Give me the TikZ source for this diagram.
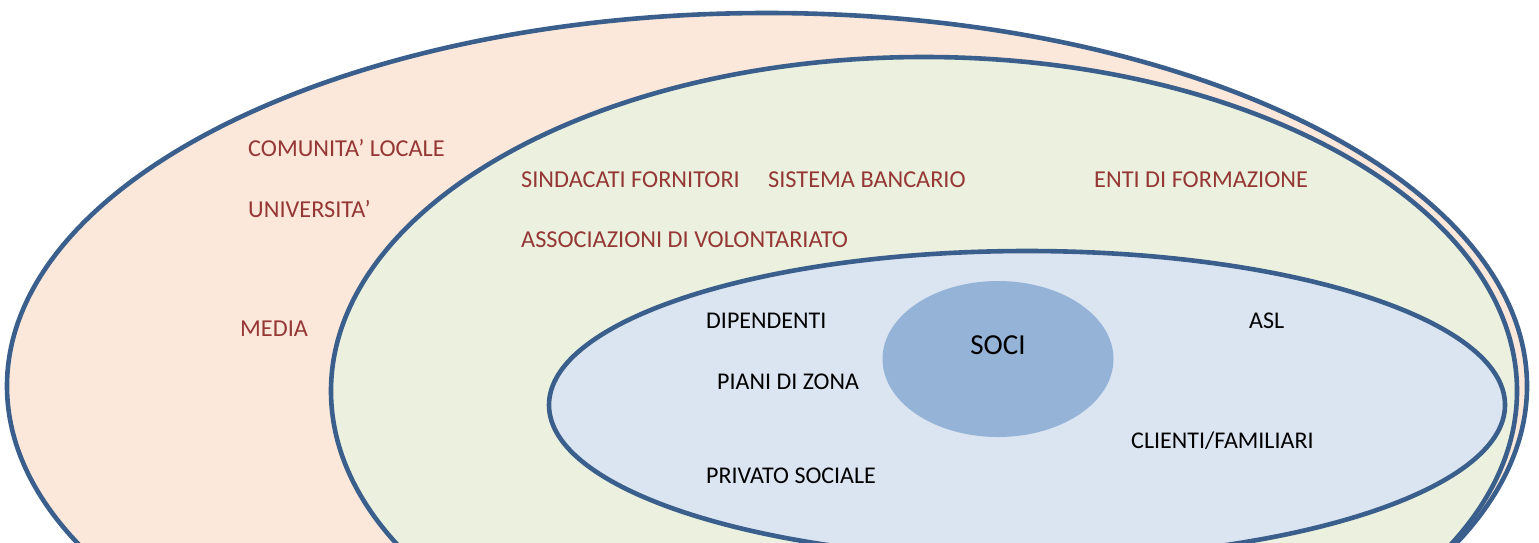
\documentclass[tikz,border=0pt]{standalone}
\usepackage{fontspec}
\setmainfont{Carlito}
\usetikzlibrary{shapes.geometric}
\definecolor{ringline}{HTML}{3A5F8C}
\definecolor{outerfill}{HTML}{FCE8DA}
\definecolor{midfill}{HTML}{EBF1DE}
\definecolor{innerfill}{HTML}{DBE5F1}
\definecolor{socifill}{HTML}{95B3D7}
\definecolor{labred}{HTML}{953735}
\tikzset{
  ring/.style={ellipse, draw=ringline, line width=4.6pt, inner sep=0pt, outer sep=0pt},
  redlab/.style={anchor=west, inner sep=0pt, text=labred, font=\fontsize{24.3}{28}\selectfont},
  blacklab/.style={anchor=west, inner sep=0pt, text=black, font=\fontsize{24}{28}\selectfont},
}
\begin{document}
\begin{tikzpicture}[x=1pt, y=-1pt]
\useasboundingbox (0,0) rectangle (1539,542);
\clip (0,0) rectangle (1539,542);
\node[ring, fill=outerfill, minimum width=1520pt, minimum height=746pt] (outer) at (767,386) {};
\node[ring, fill=midfill, minimum width=1186pt, minimum height=668pt] (middle) at (924,391) {};
\node[ring, fill=innerfill, minimum width=956pt, minimum height=308pt] (inner) at (1027,405) {};
\node[ellipse, fill=socifill, inner sep=0pt, minimum width=231pt, minimum height=156pt] (soci) at (998,359) {};
\node[inner sep=0pt, font=\fontsize{29}{32}\selectfont] (socilab) at (998,345) {SOCI};

\node[redlab] (comunita) at (248,148) {COMUNITA’ LOCALE};
\node[redlab] (universita) at (248,209) {UNIVERSITA’};
\node[redlab] (media) at (240,329) {MEDIA};
\node[redlab] (sindacati) at (521,180) {SINDACATI FORNITORI};
\node[redlab] (sistema) at (768,180) {SISTEMA BANCARIO};
\node[redlab] (enti) at (1094,180) {ENTI DI FORMAZIONE};
\node[redlab] (associazioni) at (521,240) {ASSOCIAZIONI DI VOLONTARIATO};

\node[blacklab] (dipendenti) at (706,321) {DIPENDENTI};
\node[blacklab] (piani) at (717,382) {PIANI DI ZONA};
\node[blacklab] (privato) at (706,476) {PRIVATO SOCIALE};
\node[blacklab] (asl) at (1249,321) {ASL};
\node[blacklab] (clienti) at (1131,441) {CLIENTI/FAMILIARI};
\end{tikzpicture}
\end{document}
